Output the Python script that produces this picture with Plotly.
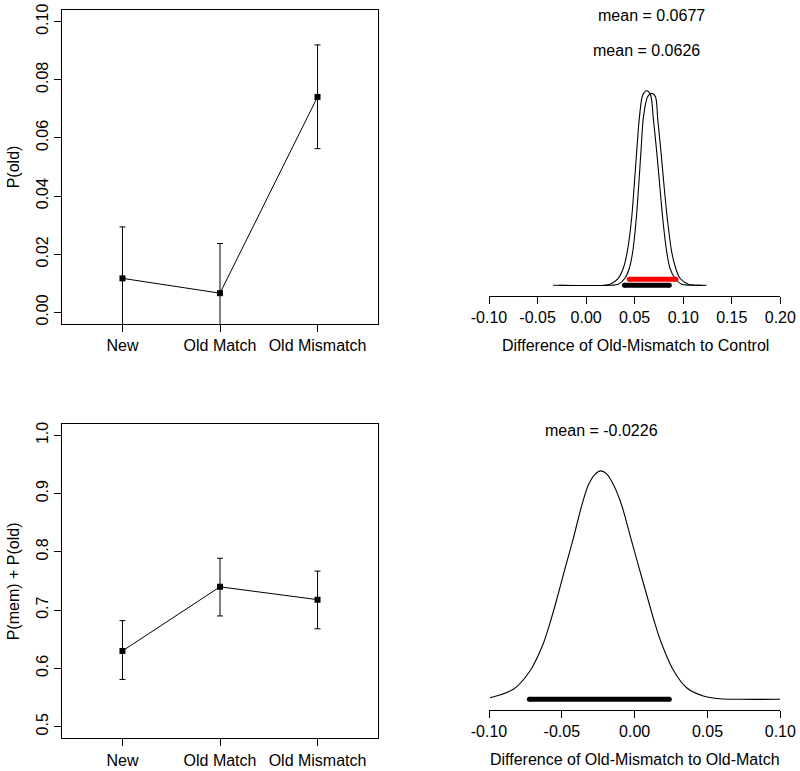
import plotly.graph_objects as go

FONT = "Liberation Sans, Arial, Helvetica, sans-serif"

# ---------------- data ----------------
conditions = ["New", "Old Match", "Old Mismatch"]

p_old_mean = [0.0117, 0.0066, 0.0741]
p_old_upper = [0.0294, 0.0237, 0.0920]
p_old_lower = [-0.0061, -0.0104, 0.0563]

p_memold_mean = [0.630, 0.740, 0.718]
p_memold_upper = [0.682, 0.789, 0.767]
p_memold_lower = [0.581, 0.690, 0.668]

# posterior density: Old-Mismatch minus Control (estimate A, mean 0.0626)
ctrl_a_x = [-0.034, 0.019, 0.0246, 0.0331, 0.0383, 0.0424, 0.0469, 0.0496, 0.0521, 0.0548,
            0.0583, 0.0622, 0.0664, 0.0692, 0.0727, 0.0758, 0.0789, 0.0830, 0.0864, 0.0915,
            0.0984, 0.106, 0.118]
ctrl_a_y = [0.0, 0.02, 0.19, 1.35, 3.27, 6.46, 12.9, 19.3, 25.7, 32.1,
            36.6, 37.4, 36.6, 32.1, 25.7, 19.3, 12.9, 6.46, 3.27, 1.35,
            0.19, 0.02, 0.0]
# posterior density: Old-Mismatch minus Control (estimate B, mean 0.0677)
ctrl_b_x = [-0.028, 0.026, 0.0331, 0.0400, 0.0445, 0.0480, 0.0517, 0.0542, 0.0565, 0.0589,
            0.0632, 0.0675, 0.0715, 0.0737, 0.0771, 0.0802, 0.0836, 0.0881, 0.0923, 0.0967,
            0.1052, 0.112, 0.124]
ctrl_b_y = [0.0, 0.02, 0.19, 1.35, 3.27, 6.46, 12.9, 19.3, 25.7, 32.1,
            36.2, 36.9, 36.2, 32.1, 25.7, 19.3, 12.9, 6.46, 3.27, 1.35,
            0.19, 0.02, 0.0]
ctrl_a_hdi = [0.0394, 0.0857]
ctrl_b_hdi = [0.0445, 0.0925]
ctrl_a_mean = 0.0626
ctrl_b_mean = 0.0677

# posterior density: Old-Mismatch minus Old-Match
match_x = [-0.0993, -0.0833, -0.0718, -0.0627, -0.0586, -0.0535, -0.0478, -0.0421, -0.0364,
           -0.0318, -0.0272, -0.0233, -0.0192, -0.0147, -0.0089, -0.0032, 0.0025, 0.0083,
           0.0140, 0.0174, 0.0265, 0.0357, 0.0471, 0.0586, 0.0723, 0.0998]
match_y = [0.11, 0.72, 2.05, 4.00, 5.30, 7.15, 9.37, 11.53, 13.85,
           15.35, 16.12, 16.36, 16.15, 15.40, 13.90, 11.76, 9.61, 7.47,
           5.40, 4.30, 2.10, 0.83, 0.24, 0.04, 0.0, 0.0]
match_hdi = [-0.0723, 0.0238]
match_mean = -0.0226

ctrl_ticks = [-0.10, -0.05, 0.00, 0.05, 0.10, 0.15, 0.20]
match_ticks = [-0.10, -0.05, 0.00, 0.05, 0.10]

# ---------------- figure ----------------
W, H = 800, 771


def px_x(p):
    return p / W


def px_y(p):
    return 1 - p / H


fig = go.Figure()

# panel 1
fig.add_trace(go.Scatter(
    x=conditions, y=p_old_mean, mode="lines+markers", xaxis="x", yaxis="y",
    line=dict(color="black", width=1),
    marker=dict(symbol="square", size=6, color="black"),
    error_y=dict(type="data", symmetric=False,
                 array=[u - m for u, m in zip(p_old_upper, p_old_mean)],
                 arrayminus=[m - l for m, l in zip(p_old_mean, p_old_lower)],
                 width=3, thickness=1, color="black"),
    showlegend=False))

# panel 3
fig.add_trace(go.Scatter(
    x=conditions, y=p_memold_mean, mode="lines+markers", xaxis="x3", yaxis="y3",
    line=dict(color="black", width=1),
    marker=dict(symbol="square", size=6, color="black"),
    error_y=dict(type="data", symmetric=False,
                 array=[u - m for u, m in zip(p_memold_upper, p_memold_mean)],
                 arrayminus=[m - l for m, l in zip(p_memold_mean, p_memold_lower)],
                 width=3, thickness=1, color="black"),
    showlegend=False))

# panel 2 densities
for xs, ys in [(ctrl_a_x, ctrl_a_y), (ctrl_b_x, ctrl_b_y)]:
    fig.add_trace(go.Scatter(x=xs, y=ys, mode="lines", xaxis="x2", yaxis="y2",
                             line=dict(color="black", width=1.1, shape="spline", smoothing=0.8),
                             showlegend=False))
fig.add_trace(go.Scatter(x=ctrl_b_hdi, y=[1.15, 1.15], mode="lines+markers", xaxis="x2", yaxis="y2",
                         line=dict(color="#ff0000", width=5),
                         marker=dict(color="#ff0000", size=5), showlegend=False))
fig.add_trace(go.Scatter(x=ctrl_a_hdi, y=[0, 0], mode="lines+markers", xaxis="x2", yaxis="y2",
                         line=dict(color="black", width=5),
                         marker=dict(color="black", size=5), showlegend=False))

# panel 4 density
fig.add_trace(go.Scatter(x=match_x, y=match_y, mode="lines", xaxis="x4", yaxis="y4",
                         line=dict(color="black", width=1.1, shape="spline", smoothing=0.8),
                         showlegend=False))
fig.add_trace(go.Scatter(x=match_hdi, y=[0, 0], mode="lines+markers", xaxis="x4", yaxis="y4",
                         line=dict(color="black", width=5),
                         marker=dict(color="black", size=5), showlegend=False))

tickfont = dict(family=FONT, size=16, color="black")
common_axis = dict(showgrid=False, zeroline=False, showline=True, linecolor="black",
                   linewidth=1, ticks="outside", ticklen=7, tickcolor="black",
                   tickwidth=1, tickfont=tickfont, automargin=False)

left_x = [px_x(62), px_x(378)]
right_x = [px_x(489), px_x(780.3)]

fig.update_layout(
    template="none",
    width=W, height=H, margin=dict(l=0, r=0, t=0, b=0, pad=0), autosize=False,
    paper_bgcolor="white", plot_bgcolor="white",
    font=dict(family=FONT, size=16, color="black"),
    xaxis=dict(domain=left_x, anchor="y", type="category", range=[-0.62, 2.62],
               mirror=True, **common_axis),
    yaxis=dict(domain=[px_y(324), px_y(10)], anchor="x", range=[-0.004, 0.104],
               tickvals=[0, 0.02, 0.04, 0.06, 0.08, 0.10], tickformat=".2f",
               tickangle=-90, mirror=True, **common_axis),
    xaxis3=dict(domain=left_x, anchor="y3", type="category", range=[-0.62, 2.62],
                mirror=True, **common_axis),
    yaxis3=dict(domain=[px_y(738.3), px_y(423.7)], anchor="x3", range=[0.48, 1.02],
                tickvals=[0.5, 0.6, 0.7, 0.8, 0.9, 1.0], tickformat=".1f",
                tickangle=-90, mirror=True, **common_axis),
    xaxis2=dict(domain=right_x, anchor="y2", range=[-0.10, 0.20],
                tickvals=ctrl_ticks, ticktext=[f"{v:.2f}" for v in ctrl_ticks], **common_axis),
    yaxis2=dict(domain=[px_y(295.7), px_y(10)], anchor="x2", range=[-2.0, 52.94],
                visible=False, automargin=False),
    xaxis4=dict(domain=right_x, anchor="y4", range=[-0.10, 0.10],
                tickvals=match_ticks, ticktext=[f"{v:.2f}" for v in match_ticks], **common_axis),
    yaxis4=dict(domain=[px_y(710), px_y(400)], anchor="x4", range=[-0.766, 21.44],
                visible=False, automargin=False),
)

ann = [
    dict(x=ctrl_b_mean, y=51.8, xref="x2", yref="y2", text=f"mean = {ctrl_b_mean:.4f}"),
    dict(x=ctrl_a_mean, y=45.06, xref="x2", yref="y2", text=f"mean = {ctrl_a_mean:.4f}"),
    dict(x=match_mean, y=19.29, xref="x4", yref="y4", text=f"mean = {match_mean:.4f}"),
    dict(x=px_x(635.3), y=px_y(345), xref="paper", yref="paper",
         text="Difference of Old-Mismatch to Control"),
    dict(x=px_x(635), y=px_y(759.3), xref="paper", yref="paper",
         text="Difference of Old-Mismatch to Old-Match"),
    dict(x=px_x(13.3), y=px_y(167), xref="paper", yref="paper", text="P(old)", textangle=-90),
    dict(x=px_x(13.3), y=px_y(581), xref="paper", yref="paper", text="P(mem) + P(old)",
         textangle=-90),
]
for a in ann:
    a.update(showarrow=False, xanchor="center", yanchor="middle",
             font=dict(family=FONT, size=16, color="black"))
fig.update_layout(annotations=ann)

fig.write_html("out.html", config={"displayModeBar": False, "responsive": False},
               post_script="document.body.style.margin='0';document.body.style.padding='0';"
                           "document.body.style.overflow='hidden';")
